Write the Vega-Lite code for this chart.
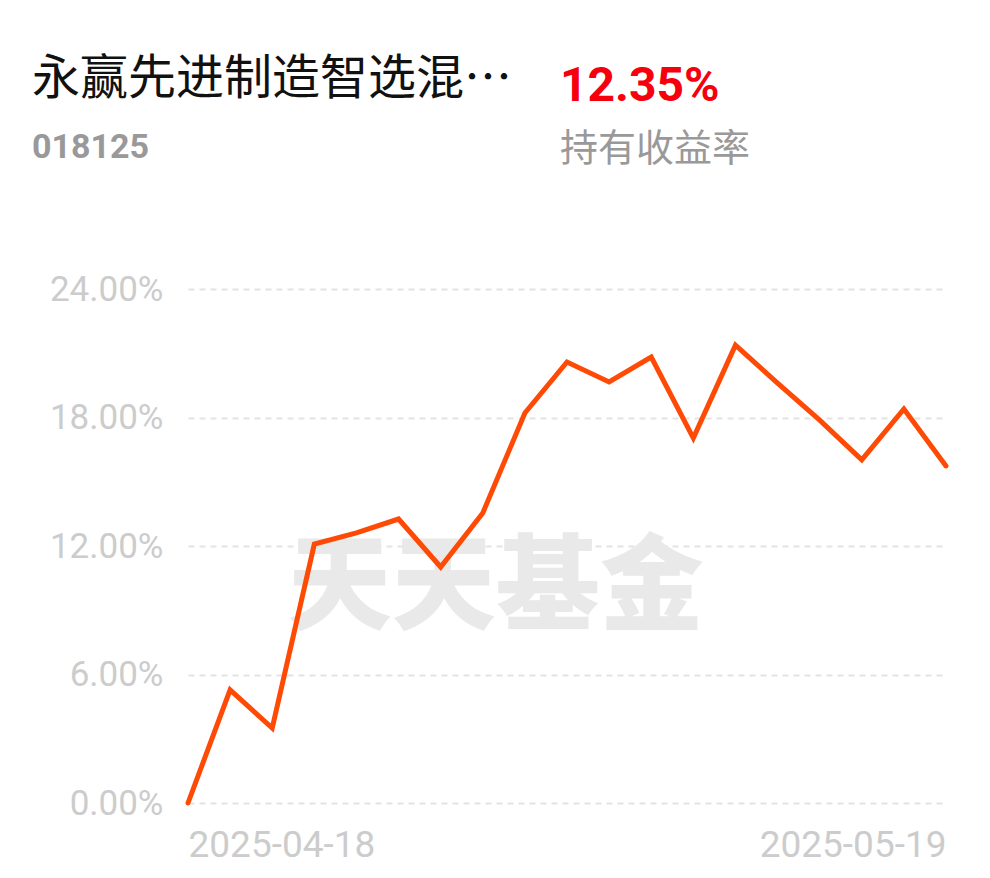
{
  "$schema": "https://vega.github.io/schema/vega-lite/v6.json",
  "background": "white",
  "padding": {"left": 32, "top": 56, "right": 0, "bottom": 0},
  "config": {"view": {"stroke": null}},
  "spacing": 96,
  "vconcat": [
    {
      "spacing": 32,
      "bounds": "flush",
      "hconcat": [
        {
          "title": {"text": "永赢先进制造智选混…", "subtitle": "018125", "anchor": "start", "dx": -156, "font": "Noto Sans CJK SC", "fontSize": 48, "fontWeight": "normal", "color": "#111111", "subtitleFont": "Roboto", "subtitleFontSize": 34, "subtitleFontWeight": "bold", "subtitleColor": "#999999", "subtitlePadding": 27, "offset": 0},
          "width": 496, "height": 2,
          "data": {"values": [{}]},
          "mark": {"type": "text"},
          "encoding": {"text": {"value": ""}}
        },
        {
          "title": {"text": "12.35%", "subtitle": "持有收益率", "anchor": "start", "dx": -156, "dy": 4, "font": "Roboto", "fontSize": 48, "fontWeight": "bold", "color": "#F5000C", "subtitleFont": "Noto Sans CJK SC", "subtitleFontSize": 38, "subtitleFontWeight": "normal", "subtitleColor": "#999999", "subtitlePadding": 20, "offset": 0},
          "width": 300, "height": 2,
          "data": {"values": [{}]},
          "mark": {"type": "text"},
          "encoding": {"text": {"value": ""}}
        }
      ]
    },
    {
      "width": 758,
      "height": 514,
      "data": {"values": [
        {"date": "2025-04-18", "rate": 0.0},
        {"date": "2025-04-21", "rate": 5.28},
        {"date": "2025-04-22", "rate": 3.50},
        {"date": "2025-04-23", "rate": 12.09},
        {"date": "2025-04-24", "rate": 12.61},
        {"date": "2025-04-25", "rate": 13.26},
        {"date": "2025-04-28", "rate": 11.02},
        {"date": "2025-04-29", "rate": 13.54},
        {"date": "2025-04-30", "rate": 18.21},
        {"date": "2025-05-06", "rate": 20.59},
        {"date": "2025-05-07", "rate": 19.66},
        {"date": "2025-05-08", "rate": 20.82},
        {"date": "2025-05-09", "rate": 17.04},
        {"date": "2025-05-12", "rate": 21.38},
        {"date": "2025-05-13", "rate": 19.61},
        {"date": "2025-05-14", "rate": 17.88},
        {"date": "2025-05-15", "rate": 16.02},
        {"date": "2025-05-16", "rate": 18.40},
        {"date": "2025-05-19", "rate": 15.74}
      ]},
      "layer": [
        {
          "data": {"values": [{"date": "2025-04-29", "rate": 9.9, "label": "天天基金"}]},
          "mark": {"type": "text", "font": "Noto Sans CJK SC", "fontWeight": 900, "fontSize": 104, "color": "#e9e9e9", "align": "center", "baseline": "middle", "dx": 13},
          "encoding": {
            "x": {"field": "date", "type": "ordinal"},
            "y": {"field": "rate", "type": "quantitative"},
            "text": {"field": "label"}
          }
        },
        {
          "mark": {"type": "line", "color": "#FF4A05", "strokeWidth": 5, "strokeJoin": "miter", "strokeCap": "round"},
          "encoding": {
            "x": {
              "field": "date", "type": "ordinal", "sort": null,
              "scale": {"type": "point", "padding": 0},
              "axis": {"title": null, "values": ["2025-04-18", "2025-05-19"], "labelAngle": 0, "ticks": false, "domain": false, "grid": false, "labelFont": "Roboto", "labelFontSize": 37, "labelColor": "#cccccc", "labelPadding": 42, "labelLimit": 400, "labelAlign": {"expr": "datum.value == '2025-04-18' ? 'left' : 'right'"}, "labelOverlap": false, "labelBound": false}
            },
            "y": {
              "field": "rate", "type": "quantitative",
              "scale": {"domain": [0, 24], "nice": false, "zero": true},
              "axis": {"title": null, "values": [0, 6, 12, 18, 24], "labelExpr": "format(datum.value, '.2f') + '%'", "ticks": false, "domain": false, "labelFont": "Roboto", "labelFontSize": 35, "labelColor": "#cccccc", "labelPadding": 25, "minExtent": 156, "grid": true, "gridColor": "#e3e3e3", "gridWidth": 2, "gridDash": [6, 5]}
            }
          }
        }
      ]
    }
  ]
}
